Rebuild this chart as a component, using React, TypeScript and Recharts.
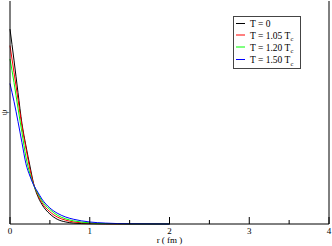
import React from 'react';
import { LineChart, Line, XAxis, YAxis, ReferenceLine, Legend } from 'recharts';

const R_FM = [0, 0.05, 0.1, 0.15, 0.2, 0.25, 0.3, 0.35, 0.4, 0.5, 0.6, 0.7, 0.8, 1.0, 1.2, 1.5, 2.0];
const PSI_T0 = [0.874, 0.735, 0.59, 0.45, 0.35, 0.26, 0.175, 0.123, 0.088, 0.045, 0.02, 0.009, 0.004, 0.001, 0.0003, 0, 0];
const PSI_T105 = [0.8, 0.68, 0.56, 0.44, 0.34, 0.245, 0.175, 0.13, 0.096, 0.055, 0.03, 0.017, 0.009, 0.003, 0.001, 0.0002, 0];
const PSI_T120 = [0.74, 0.635, 0.52, 0.41, 0.3, 0.225, 0.172, 0.136, 0.104, 0.065, 0.038, 0.023, 0.014, 0.005, 0.002, 0.0005, 0];
const PSI_T150 = [0.63, 0.55, 0.46, 0.365, 0.27, 0.215, 0.172, 0.142, 0.112, 0.072, 0.047, 0.031, 0.021, 0.009, 0.004, 0.001, 0];

const X_TICKS = [0, 0.5, 1, 1.5, 2, 2.5, 3, 3.5, 4];
const X_LABEL = 'r ( fm )';
const Y_LABEL = 'ψ';

const SERIES = [
  { key: 't0', label: 'T = 0', sub: '', color: '#000000', values: PSI_T0 },
  { key: 't105', label: 'T = 1.05 T', sub: 'c', color: '#ff0000', values: PSI_T105 },
  { key: 't120', label: 'T = 1.20 T', sub: 'c', color: '#00ff00', values: PSI_T120 },
  { key: 't150', label: 'T = 1.50 T', sub: 'c', color: '#0000ff', values: PSI_T150 },
];

const data = R_FM.map((r, i) => {
  const row: Record<string, number> = { r };
  SERIES.forEach((s) => {
    row[s.key] = s.values[i];
  });
  return row;
});

const FONT = '"Liberation Serif", "DejaVu Serif", serif';

const BottomTick = (props: any) => {
  const { x, y, payload } = props;
  const major = Number.isInteger(payload.value);
  return (
    <g>
      <line x1={x} x2={x} y1={y} y2={y - (major ? 7 : 4)} stroke="#000" strokeWidth={1} />
      {major && (
        <text x={x} y={y + 9.5} textAnchor="middle" fontSize={9} fontFamily={FONT} fill="#000">
          {payload.value}
        </text>
      )}
    </g>
  );
};

const TopTick = (props: any) => {
  const { x, y, payload } = props;
  const major = Number.isInteger(payload.value);
  return <line x1={x} x2={x} y1={y} y2={y + (major ? 7 : 4)} stroke="#000" strokeWidth={1} />;
};

const XLabel = (props: any) => {
  const vb = props.viewBox || { x: 10, y: 224, width: 319, height: 22 };
  return (
    <text x={vb.x + vb.width / 2} y={vb.y + 19} textAnchor="middle" fontSize={9} fontFamily={FONT} fill="#000">
      {X_LABEL}
    </text>
  );
};

const YLabel = (props: any) => {
  const vb = props.viewBox || { x: 0, y: 1, width: 10, height: 223 };
  const cx = vb.x + 4;
  const cy = vb.y + vb.height / 2;
  return (
    <text
      x={cx}
      y={cy}
      textAnchor="middle"
      dominantBaseline="central"
      fontSize={9}
      fontFamily={FONT}
      fill="#000"
      transform={`rotate(-90 ${cx} ${cy})`}
    >
      {Y_LABEL}
    </text>
  );
};

const LegendBox = () => {
  const rowsY = [7.5, 19, 31, 43.5];
  return (
    <svg width={68} height={54} style={{ display: 'block' }}>
      <rect x={0.5} y={0.5} width={67} height={52} fill="#fff" stroke="#444" strokeWidth={1} />
      {SERIES.map((s, i) => (
        <g key={s.key}>
          <line x1={3} x2={12} y1={rowsY[i]} y2={rowsY[i]} stroke={s.color} strokeWidth={1} />
          <text x={17} y={rowsY[i] + 3.5} fontSize={9.5} fontFamily={FONT} fill="#000">
            {s.label}
            {s.sub && (
              <tspan fontSize={6.5} dy={2.5}>
                {s.sub}
              </tspan>
            )}
          </text>
        </g>
      ))}
    </svg>
  );
};

export default function App() {
  return (
    <div style={{ position: 'absolute', left: 0, top: 0, width: 332, height: 246, background: '#fff' }}>
      <LineChart width={332} height={246} data={data} margin={{ top: 1, right: 3, bottom: 0, left: 0 }}>
        <XAxis
          dataKey="r"
          type="number"
          domain={[0, 4]}
          ticks={X_TICKS}
          interval={0}
          height={22}
          tickSize={0}
          tickMargin={0}
          tickLine={false}
          axisLine={{ stroke: '#000' }}
          tick={<BottomTick />}
          label={<XLabel />}
        />
        <XAxis
          xAxisId="top"
          orientation="top"
          dataKey="r"
          type="number"
          domain={[0, 4]}
          ticks={X_TICKS}
          interval={0}
          height={0}
          tickSize={0}
          tickMargin={0}
          tickLine={false}
          axisLine={{ stroke: '#000' }}
          tick={<TopTick />}
        />
        <YAxis
          type="number"
          domain={[0, 1]}
          width={10}
          tick={false}
          tickLine={false}
          axisLine={{ stroke: '#000' }}
          label={<YLabel />}
        />
        <ReferenceLine x={4} stroke="#000" strokeWidth={1} />
        {SERIES.map((s) => (
          <Line
            key={s.key}
            dataKey={s.key}
            name={s.key}
            type="monotone"
            stroke={s.color}
            strokeWidth={1}
            dot={false}
            activeDot={false}
            isAnimationActive={false}
          />
        ))}
        <Legend
          layout="vertical"
          align="center"
          verticalAlign="middle"
          content={<LegendBox />}
          wrapperStyle={{ position: 'absolute', left: 233, top: 16, width: 68, height: 54 }}
        />
      </LineChart>
    </div>
  );
}
